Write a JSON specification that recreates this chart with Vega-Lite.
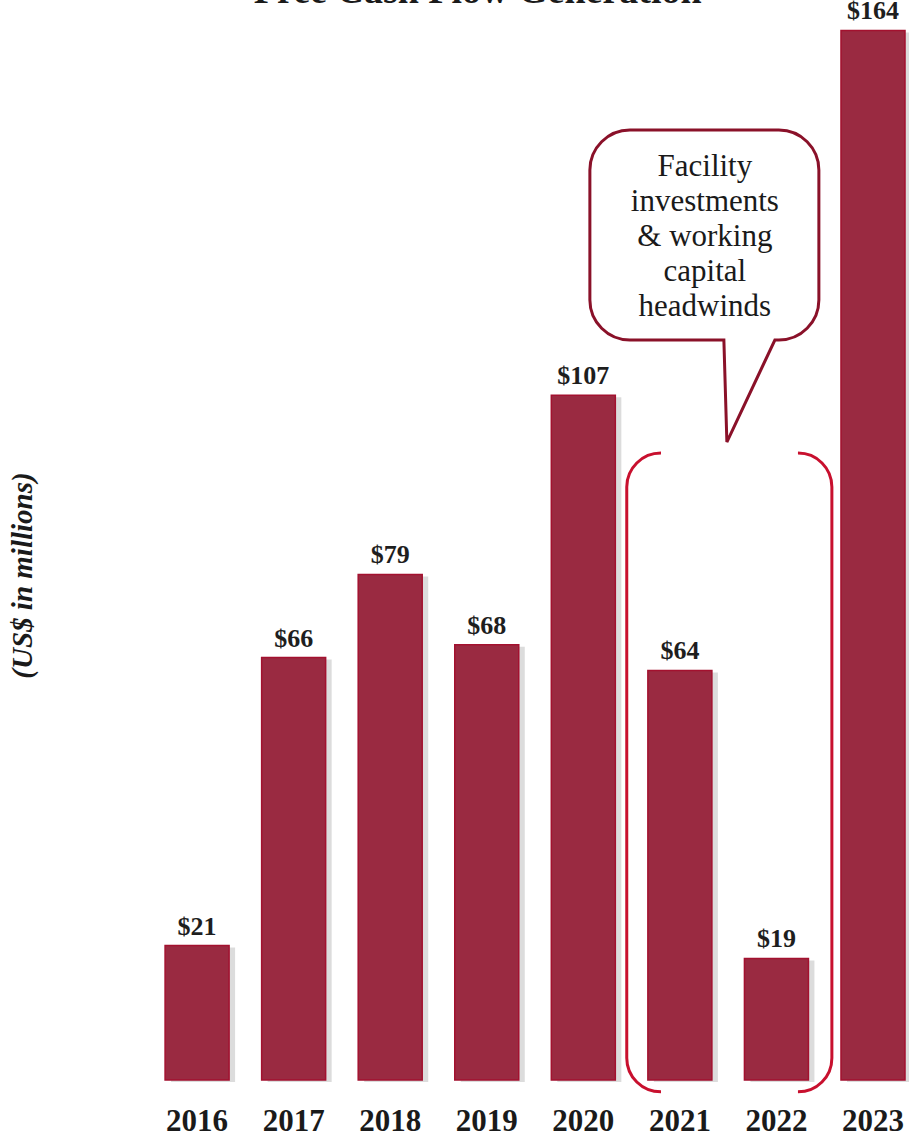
{
  "$schema": "https://vega.github.io/schema/vega-lite/v6.json",
  "autosize": "none",
  "width": 805,
  "height": 1080,
  "padding": {"left": 100, "top": 0, "right": 4, "bottom": 57},
  "background": "white",
  "config": {"view": {"stroke": null}},
  "data": {"values": [
    {"year": "2016", "value": 21},
    {"year": "2017", "value": 66},
    {"year": "2018", "value": 79},
    {"year": "2019", "value": 68},
    {"year": "2020", "value": 107},
    {"year": "2021", "value": 64},
    {"year": "2022", "value": 19},
    {"year": "2023", "value": 164}
  ]},
  "encoding": {
    "x": {
      "field": "year", "type": "ordinal",
      "scale": {"paddingInner": 0.337, "paddingOuter": 0.337, "align": 1},
      "axis": {"title": null, "ticks": false, "domain": false, "labelAngle": 0, "labelPadding": 26,
               "labelFont": "Liberation Serif", "labelFontSize": 31, "labelFontWeight": "bold", "labelColor": "#1a1a1a"}
    },
    "y": {
      "field": "value", "type": "quantitative",
      "scale": {"domain": [0, 168.75], "nice": false, "zero": true},
      "axis": {"title": "(US$ in millions)", "labels": false, "ticks": false, "domain": false, "grid": false,
               "titleX": -78, "titleY": 575, "titleAngle": -90, "titleAlign": "center", "titleBaseline": "middle",
               "titleFont": "Liberation Serif", "titleFontSize": 29, "titleFontStyle": "italic", "titleFontWeight": "bold", "titleColor": "#1a1a1a"}
    }
  },
  "layer": [
    {"mark": {"type": "bar", "fill": "#9a9a9a", "opacity": 0.35, "xOffset": 6, "yOffset": 2}},
    {"mark": {"type": "bar", "fill": "#9a2a41", "stroke": "#a3112f", "strokeWidth": 1.5}},
    {"mark": {"type": "text", "dy": -11, "baseline": "alphabetic", "font": "Liberation Serif", "fontSize": 26, "fontWeight": "bold", "color": "#1e1e1e"},
     "encoding": {"text": {"field": "value", "type": "quantitative", "format": "$d"}}},
    {"transform": [{"filter": "datum.year == '2021'"}],
     "mark": {"type": "point", "shape": "M -0.059 -0.998 C -0.118 -0.998 -0.166 -0.951 -0.166 -0.892 L -0.166 0.892 C -0.166 0.951 -0.118 0.998 -0.059 0.998 M 0.369 -0.998 C 0.428 -0.998 0.475 -0.951 0.475 -0.892 L 0.475 0.892 C 0.475 0.951 0.428 0.998 0.369 0.998",
              "size": 409600, "filled": false, "stroke": "#c8102e", "strokeWidth": 3, "opacity": 1},
     "encoding": {"y": {"datum": 48.05, "type": "quantitative"}}},
    {"transform": [{"filter": "datum.year == '2021'"}],
     "mark": {"type": "point", "shape": "M -0.25 -0.78 L 0.495 -0.78 C 0.605 -0.78 0.695 -0.69 0.695 -0.58 L 0.695 0.07 C 0.695 0.18 0.605 0.27 0.495 0.27 L 0.475 0.27 L 0.235 0.78 L 0.22 0.27 L -0.25 0.27 C -0.36 0.27 -0.45 0.18 -0.45 0.07 L -0.45 -0.58 C -0.45 -0.69 -0.36 -0.78 -0.25 -0.78 Z",
              "size": 160000, "filled": true, "fill": "#ffffff", "stroke": "#8a1129", "strokeWidth": 3, "opacity": 1},
     "encoding": {"y": {"datum": 124.06, "type": "quantitative"}}},
    {"transform": [{"filter": "datum.year == '2021'"}],
     "mark": {"type": "text", "text": ["Facility", "investments", "& working", "capital", "headwinds"], "dx": 25,
              "baseline": "middle", "align": "center", "lineHeight": 35, "font": "Liberation Serif", "fontSize": 31, "color": "#1a1a1a"},
     "encoding": {"y": {"datum": 142.66, "type": "quantitative"}}},
    {"transform": [{"filter": "datum.year == '2019'"}],
     "mark": {"type": "text", "text": "Free Cash Flow Generation", "dx": -9, "baseline": "alphabetic", "align": "center",
              "font": "Liberation Serif", "fontSize": 38, "fontWeight": "bold", "color": "#1a1a1a"},
     "encoding": {"y": {"datum": 168.25, "type": "quantitative"}}}
  ]
}
